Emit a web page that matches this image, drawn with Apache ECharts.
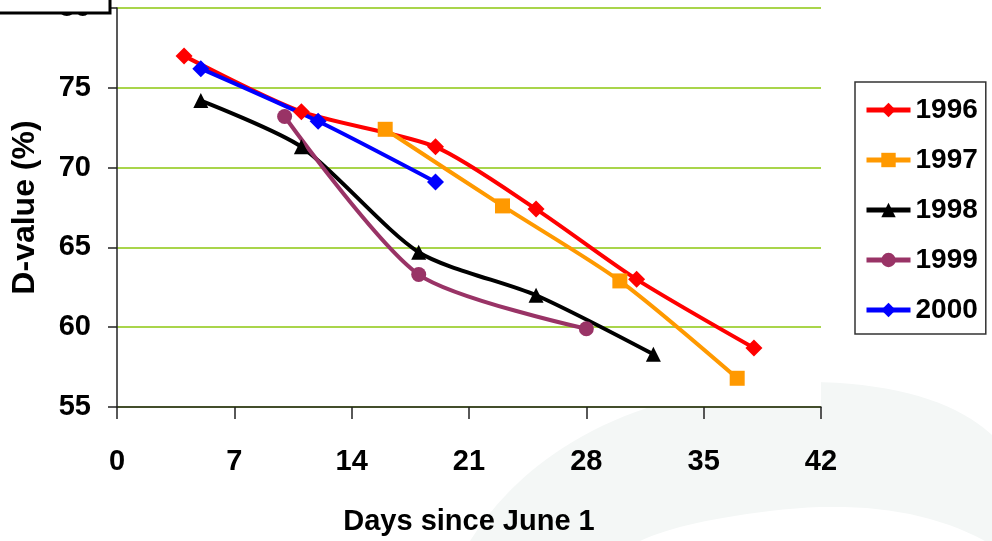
<!DOCTYPE html>
<html>
<head>
<meta charset="utf-8">
<script src="https://cdn.jsdelivr.net/npm/echarts@6/dist/echarts.min.js"></script>
<style>
html,body{margin:0;padding:0;background:#fff;}
#chart{width:992px;height:541px;}
</style>
</head>
<body>
<div id="chart"></div>
<script>
// ---- data ----
const seriesNames = ['1996', '1997', '1998', '1999', '2000'];
const s1996 = [[4, 77.0], [11, 73.5], [19, 71.3], [25, 67.4], [31, 63.0], [38, 58.7]];
const s1997 = [[16, 72.4], [23, 67.6], [30, 62.9], [37, 56.8]];
const s1998 = [[5, 74.2], [11, 71.3], [18, 64.7], [25, 62.0], [32, 58.3]];
const s1999 = [[10, 73.2], [18, 63.3], [28, 59.9]];
const s2000 = [[5, 76.2], [12, 72.9], [19, 69.1]];
const xTicks = [0, 7, 14, 21, 28, 35, 42];
const yTicks = [55, 60, 65, 70, 75, 80];
const xTitle = 'Days since June 1';
const yTitle = 'D-value (%)';

const FONT = '"Liberation Sans", Arial, sans-serif';
const colors = ['#ff0000', '#ff9900', '#000000', '#993366', '#0000ff'];
const symbols = ['diamond', 'rect', 'triangle', 'circle', 'diamond'];
const symSizes = [17, 15, 15, 15, 17];
const allData = [s1996, s1997, s1998, s1999, s2000];

// decorative background swoosh (quadratic bezier segments)
function quad(p0, c, p1, n) {
  const out = [];
  for (let i = 0; i <= n; i++) {
    const t = i / n, u = 1 - t;
    out.push([u*u*p0[0] + 2*u*t*c[0] + t*t*p1[0], u*u*p0[1] + 2*u*t*c[1] + t*t*p1[1]]);
  }
  return out;
}
const swoosh = [].concat(
  quad([470, 541], [560, 400], [780, 382], 30),
  quad([780, 382], [930, 378], [992, 435], 20),
  [[992, 541], [985, 541]],
  quad([985, 541], [900, 495], [770, 511], 20),
  quad([770, 511], [680, 522], [640, 541], 15)
);

const chart = echarts.init(document.getElementById('chart'));
chart.setOption({
  animation: false,
  backgroundColor: '#ffffff',
  graphic: [
    { type: 'polygon', z: -10, silent: true,
      shape: { points: swoosh },
      style: { fill: '#f4f7f6' } },
    { type: 'rect', z: 100, silent: true,
      shape: { x: -4, y: -4, width: 114, height: 17 },
      style: { fill: '#ffffff', stroke: '#000000', lineWidth: 3 } }
  ],
  grid: {
    left: 117, right: 171, top: 8, bottom: 134,
    containLabel: false, outerBoundsMode: 'none',
    show: true, backgroundColor: '#ffffff', borderWidth: 0
  },
  legend: {
    orient: 'vertical',
    left: 855, top: 82,
    padding: [12, 8, 8, 9],
    borderColor: '#333', borderWidth: 1.5,
    backgroundColor: '#ffffff',
    itemWidth: 44, itemHeight: 18, itemGap: 18, itemTextGap: 6,
    lineStyle: { width: 5 },
    data: seriesNames,
    textStyle: { fontFamily: FONT, fontWeight: 'bold', fontSize: 28, lineHeight: 32, color: '#000' }
  },
  xAxis: {
    type: 'value', min: xTicks[0], max: xTicks[xTicks.length - 1], interval: 7,
    name: xTitle, nameLocation: 'middle', nameGap: 100,
    nameTextStyle: { fontFamily: FONT, fontWeight: 'bold', fontSize: 29, color: '#000' },
    axisLine: { onZero: false, lineStyle: { color: '#222', width: 1.5 } },
    axisTick: { show: true, length: 12, inside: false, lineStyle: { color: '#222', width: 1.5 } },
    axisLabel: { margin: 40, fontFamily: FONT, fontWeight: 'bold', fontSize: 29, color: '#000' },
    splitLine: { show: false }
  },
  yAxis: {
    type: 'value', min: yTicks[0], max: yTicks[yTicks.length - 1], interval: 5,
    name: yTitle, nameLocation: 'middle', nameGap: 76, nameRotate: 90,
    nameTextStyle: { fontFamily: FONT, fontWeight: 'bold', fontSize: 32, color: '#000' },
    axisLine: { show: true, lineStyle: { color: '#222', width: 1.5 } },
    axisTick: { show: true, length: 9, lineStyle: { color: '#222', width: 1.5 } },
    axisLabel: { margin: 26, fontFamily: FONT, fontWeight: 'bold', fontSize: 29, color: '#000' },
    splitLine: { show: true, lineStyle: { color: '#a9d54b', width: 2 } }
  },
  series: seriesNames.map((n, i) => ({
    name: n, type: 'line', data: allData[i],
    smooth: 0.25,
    symbol: symbols[i], symbolSize: symSizes[i],
    itemStyle: { color: colors[i] },
    lineStyle: { color: colors[i], width: 4 }
  }))
});
</script>
</body>
</html>
